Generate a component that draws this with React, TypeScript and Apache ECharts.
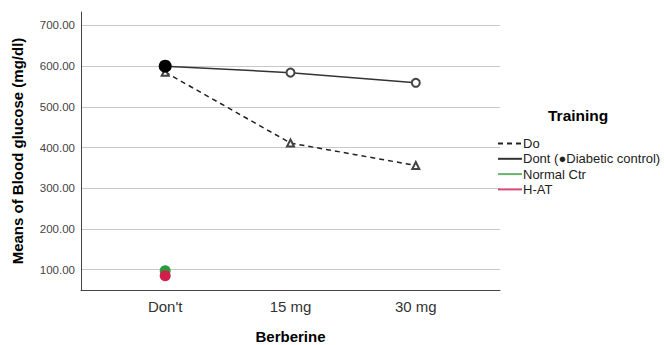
import React, { useEffect, useRef } from "react";
import * as echarts from "echarts";

const categories = ["Don't", "15 mg", "30 mg"];
const doValues = [585, 411, 356];
const dontValues = [600, 584, 559];
const normalCtr = [97];
const hat = [85];
const yTicks = [100, 200, 300, 400, 500, 600, 700];

const FONT = "Arial, 'Liberation Sans', sans-serif";

export default function App() {
  const ref = useRef<HTMLDivElement>(null);
  useEffect(() => {
    if (!ref.current) return;
    const chart = echarts.init(ref.current, null, { renderer: "svg" });
    const pts = (vals: number[]) => vals.map((v, i) => [i, v]);
    chart.setOption({
      animation: false,
      textStyle: { fontFamily: FONT },
      grid: { left: 81, top: 12, right: 164, bottom: 55, containLabel: false, outerBoundsMode: "none" },
      title: {
        text: "Training",
        left: 543,
        top: 102,
        textStyle: { fontFamily: FONT, fontSize: 15.5, fontWeight: "bold", color: "#000" },
      },
      legend: {
        orient: "vertical",
        left: 492,
        top: 132,
        itemWidth: 24,
        itemHeight: 12,
        itemGap: 2.3,
        itemStyle: { opacity: 0 },
        textStyle: { fontFamily: FONT, fontSize: 13, color: "#222", padding: [0, 0, 0, -4] },
        data: ["Do", "Dont (●Diabetic control)", "Normal Ctr", "H-AT"],
      },
      xAxis: {
        type: "value",
        min: -0.672,
        max: 2.672,
        name: "Berberine",
        nameLocation: "middle",
        nameGap: 39,
        nameTextStyle: { fontFamily: FONT, fontSize: 15, fontWeight: "bold", color: "#000" },
        axisLine: { show: true, onZero: false, lineStyle: { color: "#444", width: 1 } },
        axisTick: { show: false },
        splitLine: { show: false },
        axisLabel: {
          customValues: [0, 1, 2],
          formatter: (v: number) => categories[Math.round(v)] ?? "",
          fontFamily: FONT,
          fontSize: 15,
          color: "#333",
          margin: 9,
        },
      },
      yAxis: {
        type: "value",
        min: 50,
        max: 733,
        name: "Means of Blood glucose (mg/dl)",
        nameLocation: "middle",
        nameGap: 56,
        nameTextStyle: { fontFamily: FONT, fontSize: 15, fontWeight: "bold", color: "#000" },
        axisLine: { show: true, onZero: false, lineStyle: { color: "#444", width: 1 } },
        axisTick: { show: false, customValues: yTicks },
        splitLine: { show: true, lineStyle: { color: "#c8c8c8", width: 1 } },
        axisLabel: {
          customValues: yTicks,
          formatter: (v: number) => v.toFixed(2),
          fontFamily: FONT,
          fontSize: 11.5,
          color: "#444",
          margin: 6,
        },
      },
      series: [
        {
          name: "Do",
          type: "line",
          data: pts(doValues),
          symbol: "emptyTriangle",
          symbolSize: 7,
          lineStyle: { color: "#222", width: 1.5, type: [5, 4] },
          itemStyle: { color: "#444" },
          z: 3,
        },
        {
          name: "Dont (●Diabetic control)",
          type: "line",
          data: pts(dontValues).map((p, i) =>
            i === 0
              ? { value: p, symbol: "circle", symbolSize: 13, itemStyle: { color: "#000" } }
              : { value: p }
          ),
          symbol: "emptyCircle",
          symbolSize: 8,
          lineStyle: { color: "#333", width: 1.5 },
          itemStyle: { color: "#444" },
          z: 4,
        },
        {
          name: "Normal Ctr",
          type: "line",
          data: pts(normalCtr),
          symbol: "circle",
          symbolSize: 11,
          lineStyle: { color: "#6ab46a", width: 1.5 },
          itemStyle: { color: "#2b9a3b" },
          z: 5,
        },
        {
          name: "H-AT",
          type: "line",
          data: pts(hat),
          symbol: "circle",
          symbolSize: 11,
          lineStyle: { color: "#d9477a", width: 1.5 },
          itemStyle: { color: "#d11f4b" },
          z: 6,
        },
      ],
    });
    return () => chart.dispose();
  }, []);
  return <div ref={ref} style={{ width: 664, height: 345, position: "absolute", left: 0, top: 0 }} />;
}
